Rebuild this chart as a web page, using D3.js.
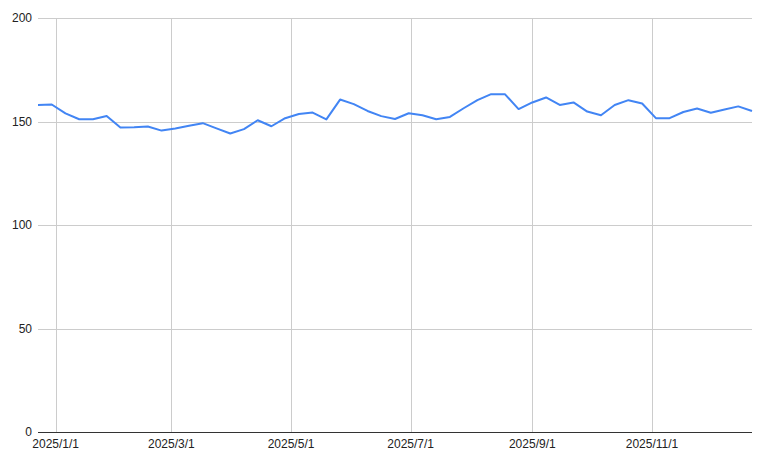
<!DOCTYPE html>
<html>
<head>
<meta charset="utf-8">
<script src="https://cdn.jsdelivr.net/npm/d3@7"></script>
<style>
  body { margin: 0; background: #fff; }
  text { font-family: Arial, "Liberation Sans", sans-serif; }
</style>
</head>
<body>
<div id="chart"></div>
<script>
// weekly readings, first week starting 2024/12/23
var startDate = "2024-12-23";
var values = [
  158.0, 158.2, 153.9, 151.1, 151.1, 152.7, 147.1, 147.2, 147.6, 145.6,
  146.6, 147.9, 149.2, 146.7, 144.2, 146.3, 150.6, 147.7, 151.6, 153.6,
  154.3, 151.0, 160.6, 158.4, 155.1, 152.6, 151.2, 154.0, 153.0, 151.1,
  152.2, 156.4, 160.3, 163.2, 163.2, 156.0, 159.2, 161.6, 158.0, 159.2,
  154.8, 153.0, 158.0, 160.3, 158.7, 151.6, 151.6, 154.6, 156.3, 154.2,
  155.8, 157.3, 155.1
];
var xTicks = ["2025-01-01", "2025-03-01", "2025-05-01", "2025-07-01", "2025-09-01", "2025-11-01"];
var yTicks = [0, 50, 100, 150, 200];

var width = 761, height = 464;
var margin = { top: 18, right: 9, bottom: 32, left: 38 };

var parse = d3.timeParse("%Y-%m-%d");
var start = parse(startDate);
var data = values.map(function (v, i) {
  return { date: d3.timeDay.offset(start, i * 7), value: v };
});

var svg = d3.select("#chart").append("svg")
  .attr("width", width).attr("height", height);

var x = d3.scaleTime()
  .domain(d3.extent(data, function (d) { return d.date; }))
  .range([margin.left, width - margin.right]);

var y = d3.scaleLinear()
  .domain([0, 200])
  .range([height - margin.bottom, margin.top]);

// horizontal grid
svg.append("g").selectAll("line")
  .data(yTicks.filter(function (t) { return t > 0; }))
  .enter().append("line")
  .attr("x1", margin.left).attr("x2", width - margin.right)
  .attr("y1", function (d) { return Math.round(y(d)) + 0.5; })
  .attr("y2", function (d) { return Math.round(y(d)) + 0.5; })
  .attr("stroke", "#cccccc");

// vertical grid
var tickDates = xTicks.map(parse);
svg.append("g").selectAll("line")
  .data(tickDates)
  .enter().append("line")
  .attr("x1", function (d) { return Math.round(x(d)) + 0.5; })
  .attr("x2", function (d) { return Math.round(x(d)) + 0.5; })
  .attr("y1", margin.top).attr("y2", height - margin.bottom)
  .attr("stroke", "#cccccc");

// baseline
svg.append("line")
  .attr("x1", margin.left).attr("x2", width - margin.right)
  .attr("y1", Math.round(y(0)) + 0.5).attr("y2", Math.round(y(0)) + 0.5)
  .attr("stroke", "#333333");

// y labels
svg.append("g").selectAll("text")
  .data(yTicks)
  .enter().append("text")
  .attr("x", margin.left - 6)
  .attr("y", function (d) { return y(d); })
  .attr("dy", "0.35em")
  .attr("text-anchor", "end")
  .attr("font-size", 12)
  .attr("fill", "#222")
  .text(function (d) { return d; });

// x labels
var fmt = d3.timeFormat("%Y/%-m/%-d");
svg.append("g").selectAll("text")
  .data(tickDates)
  .enter().append("text")
  .attr("x", function (d) { return x(d); })
  .attr("y", height - margin.bottom + 16)
  .attr("text-anchor", "middle")
  .attr("font-size", 12)
  .attr("fill", "#222")
  .text(function (d) { return fmt(d); });

// line
var line = d3.line()
  .x(function (d) { return x(d.date); })
  .y(function (d) { return y(d.value); });

svg.append("path")
  .datum(data)
  .attr("fill", "none")
  .attr("stroke", "#4285f4")
  .attr("stroke-width", 2)
  .attr("stroke-linejoin", "round")
  .attr("d", line);
</script>
</body>
</html>
